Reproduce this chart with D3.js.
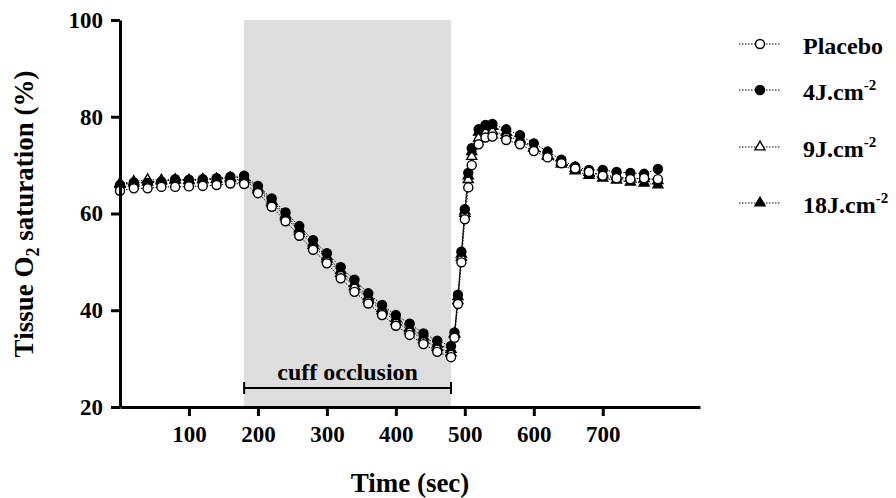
<!DOCTYPE html>
<html>
<head>
<meta charset="utf-8">
<script src="https://cdn.jsdelivr.net/npm/d3@7"></script>
<style>
  body { margin: 0; background: #fff; }
  text { font-family: "Liberation Serif", "Times New Roman", serif; font-weight: bold; }
</style>
</head>
<body>
<div id="chart"></div>
<script>
// time points (sec)
var times = [0, 20, 40, 60, 80, 100, 120, 140, 160, 180,
             200, 220, 240, 260, 280, 300, 320, 340, 360, 380, 400, 420, 440, 460, 480,
             485, 490, 495, 500, 505, 510, 520, 530, 540,
             560, 580, 600, 620, 640, 660, 680, 700, 720, 740, 760, 780];

var placebo = [64.7, 65.2, 65.2, 65.5, 65.5, 65.6, 65.7, 65.9, 66.2, 66.1,
               64.2, 61.4, 58.4, 55.4, 52.5, 49.7, 46.6, 43.8, 41.4, 39.0, 36.8, 34.9, 33.0, 31.4, 30.3,
               34.3, 41.3, 49.9, 58.8, 65.4, 70.0, 74.3, 75.7, 75.9,
               75.2, 74.3, 72.9, 71.6, 70.4, 69.3, 68.6, 67.8, 67.3, 67.1, 67.3, 67.1];

var j4 = [65.9, 66.4, 66.3, 66.6, 67.1, 67.0, 67.1, 67.3, 67.6, 67.8,
          65.7, 63.1, 60.2, 57.4, 54.5, 51.8, 48.9, 46.3, 43.5, 41.1, 39.0, 37.2, 35.2, 33.7, 32.6,
          35.4, 43.2, 52.1, 60.9, 68.4, 73.5, 77.4, 78.3, 78.5,
          77.4, 76.2, 74.5, 72.8, 71.1, 69.7, 69.0, 69.0, 68.6, 68.4, 68.2, 69.2];

var j9 = [66.2, 66.6, 67.0, 66.9, 67.0, 66.9, 67.0, 67.1, 67.2, 67.0,
          64.9, 62.2, 59.3, 56.3, 53.4, 50.6, 47.6, 44.9, 42.3, 39.9, 37.7, 35.8, 33.9, 32.3, 31.2,
          35.0, 42.0, 51.0, 60.0, 67.0, 71.8, 75.6, 76.8, 77.0,
          76.2, 75.0, 73.5, 72.0, 70.6, 69.4, 68.5, 68.0, 67.6, 67.3, 67.2, 66.8];

var j18 = [66.0, 66.3, 66.5, 66.7, 66.9, 66.8, 67.0, 67.1, 67.4, 67.5,
           65.3, 62.6, 59.7, 56.8, 53.9, 51.1, 48.2, 45.5, 42.8, 40.4, 38.3, 36.4, 34.5, 33.0, 31.9,
           35.2, 42.8, 51.6, 60.5, 67.8, 72.8, 76.8, 77.8, 78.0,
           76.8, 75.4, 73.6, 71.8, 70.2, 68.8, 67.9, 67.3, 66.9, 66.5, 66.3, 65.9];

var x_ticks = [100, 200, 300, 400, 500, 600, 700];
var y_ticks = [20, 40, 60, 80, 100];
var occlusion = [180, 480];

// name, values, marker shape, filled?
var series = [
  ["18J", j18, "triangle", true],
  ["9J", j9, "triangle", false],
  ["4J", j4, "circle", true],
  ["Placebo", placebo, "circle", false]
];
var legend_rows = [
  ["Placebo", "", "circle", false],
  ["4J.cm", "-2", "circle", true],
  ["9J.cm", "-2", "triangle", false],
  ["18J.cm", "-2", "triangle", true]
];

var width = 896, height = 498;
var svg = d3.select("#chart").append("svg")
            .attr("width", width)
            .attr("height", height);

var x = d3.scaleLinear().domain([0, 841]).range([120, 700]);
var y = d3.scaleLinear().domain([20, 100]).range([407, 20]);

// grey band for cuff occlusion
svg.append("rect")
   .attr("x", x(occlusion[0]))
   .attr("y", y(100))
   .attr("width", x(occlusion[1]) - x(occlusion[0]))
   .attr("height", y(20) - y(100))
   .attr("fill", "#dddddd");

// cuff occlusion bracket
var br_y = 388;
svg.append("path")
   .attr("d", "M" + x(occlusion[0]) + "," + (br_y - 6) + "V" + (br_y + 6) +
              "M" + x(occlusion[0]) + "," + br_y + "H" + x(occlusion[1]) +
              "M" + x(occlusion[1]) + "," + (br_y - 6) + "V" + (br_y + 6))
   .attr("stroke", "#000")
   .attr("stroke-width", 2)
   .attr("fill", "none");
svg.append("text")
   .attr("x", (x(occlusion[0]) + x(occlusion[1])) / 2)
   .attr("y", 380)
   .attr("text-anchor", "middle")
   .style("font-size", "24px")
   .text("cuff occlusion");

var symCircle = d3.symbol().type(d3.symbolCircle).size(64);
var symTri = d3.symbol().type(d3.symbolTriangle).size(44);

function drawMarker(g, shape, filled) {
  g.append("path")
   .attr("d", shape == "circle" ? symCircle() : symTri())
   .attr("fill", filled ? "#000" : "#fff")
   .attr("stroke", "#000")
   .attr("stroke-width", 1.4);
}

var line = d3.line()
             .x(function(d) { return x(d[0]); })
             .y(function(d) { return y(d[1]); });

series.forEach(function(s) {
  var pts = times.map(function(t, i) { return [t, s[1][i]]; });
  svg.append("path")
     .datum(pts)
     .attr("d", line)
     .attr("fill", "none")
     .attr("stroke", "#000")
     .attr("stroke-width", 1)
     .attr("stroke-dasharray", "1.5,1.5");
});

series.forEach(function(s) {
  var pts = times.map(function(t, i) { return [t, s[1][i]]; });
  svg.selectAll(null)
     .data(pts)
     .enter()
     .append("g")
     .attr("transform", function(d) { return "translate(" + x(d[0]) + "," + y(d[1]) + ")"; })
     .each(function() { drawMarker(d3.select(this), s[2], s[3]); });
});

// axes
var xAxis = svg.append("g")
   .attr("transform", "translate(0," + y(20) + ")")
   .call(d3.axisBottom(x).tickValues(x_ticks).tickSize(9).tickSizeOuter(0).tickPadding(10));
var yAxis = svg.append("g")
   .attr("transform", "translate(" + x(0) + ",0)")
   .call(d3.axisLeft(y).tickValues(y_ticks).tickSize(9).tickSizeOuter(0).tickPadding(8));

[xAxis, yAxis].forEach(function(a) {
  a.select(".domain").attr("stroke-width", 3);
  a.selectAll(".tick line").attr("stroke-width", 3);
  a.selectAll(".tick text")
   .style("font-family", "Liberation Serif, Times New Roman, serif")
   .style("font-weight", "bold")
   .style("font-size", "23px")
   .attr("fill", "#000");
});

// axis titles
svg.append("text")
   .attr("x", 410)
   .attr("y", 492)
   .attr("text-anchor", "middle")
   .style("font-size", "27px")
   .text("Time (sec)");

var yt = svg.append("text")
   .attr("transform", "translate(33,214) rotate(-90)")
   .attr("text-anchor", "middle")
   .style("font-size", "27px");
yt.append("tspan").text("Tissue O");
yt.append("tspan").attr("dy", 6).style("font-size", "18px").text("2");
yt.append("tspan").attr("dy", -6).text(" saturation (%)");

// legend
var leg_y = [44, 90, 147, 203];
legend_rows.forEach(function(r, i) {
  var g = svg.append("g").attr("transform", "translate(0," + leg_y[i] + ")");
  g.append("line")
   .attr("x1", 739).attr("x2", 780)
   .attr("y1", 0).attr("y2", 0)
   .attr("stroke", "#000")
   .attr("stroke-width", 1)
   .attr("stroke-dasharray", "1.5,1.5");
  var m = g.append("g").attr("transform", "translate(760,0)");
  drawMarker(m, r[2], r[3]);
  var t = g.append("text")
   .attr("x", 803)
   .attr("y", 10)
   .style("font-size", "24px")
   .text(r[0]);
  if (r[1]) {
    t.append("tspan").attr("dy", -10).style("font-size", "15px").text(r[1]);
  }
});
</script>
</body>
</html>
